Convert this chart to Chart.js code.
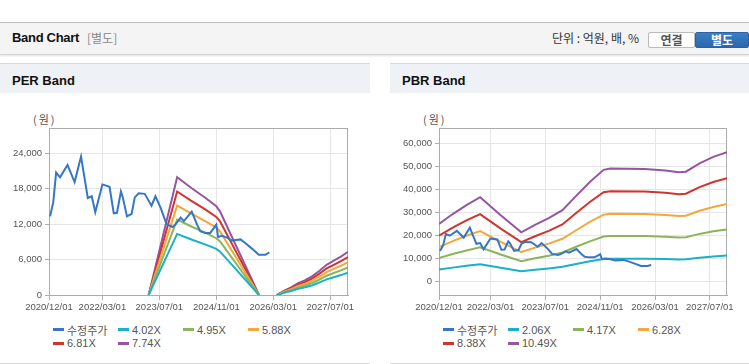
<!DOCTYPE html>
<html><head><meta charset="utf-8">
<script src="https://cdn.jsdelivr.net/npm/chart.js@4.4.1/dist/chart.umd.min.js"></script>
<style>
body{margin:0;width:749px;height:364px;position:relative;overflow:hidden;background:#fff;font-family:"Liberation Sans","Noto Sans CJK KR",sans-serif;}
.abs{position:absolute;white-space:nowrap;}
#hdr{position:absolute;left:0;top:22px;width:749px;height:31px;background:#f4f4f4;border-top:1px solid #bcbcbc;border-bottom:1px solid #d2d2d2;box-shadow:0 1px 2px rgba(0,0,0,0.12);}
.ttl{font-weight:bold;font-size:13px;color:#111;letter-spacing:-0.3px;}
.sub{font-size:12px;color:#888;font-family:"Noto Sans CJK KR",sans-serif;}
.unit{font-size:12px;color:#333;font-family:"Noto Sans CJK KR",sans-serif;}
.btn{position:absolute;top:9px;height:14px;line-height:14px;font-size:12px;font-weight:bold;text-align:center;font-family:"Noto Sans CJK KR",sans-serif;border-radius:2px;}
.panel{position:absolute;top:63px;height:299px;border-top:1px solid #d8d8d8;border-bottom:1px solid #d8d8d8;}
.ph{position:absolute;left:0;top:0;right:0;height:29px;background:#eef1f6;}
.ph span{position:absolute;left:12px;top:9px;font-weight:bold;font-size:13px;color:#111;}
.unitlbl{position:absolute;left:33px;top:47px;font-size:11px;color:#555;font-family:"Noto Sans CJK KR",sans-serif;letter-spacing:2px;}
canvas{position:absolute;left:0;top:29px;}
.legend{position:absolute;left:53px;top:259px;display:grid;grid-template-columns:repeat(4,65px);grid-auto-rows:13.5px;font-size:11px;color:#555;}
.legend div{display:flex;align-items:center;}
.legend i{display:inline-block;width:11px;height:3px;margin-right:3px;}
.legend span.k{font-family:"Noto Sans CJK KR",sans-serif;font-size:11px;}
</style></head>
<body>
<div id="hdr">
  <span class="abs ttl" style="left:12px;top:7px;">Band Chart</span>
  <span class="abs sub" style="left:87px;top:6px;">[별도]</span>
  <span class="abs unit" style="left:552px;top:6px;">단위 : 억원, 배, %</span>
  <div class="btn" style="left:648px;width:45px;background:#fff;border:1px solid #bbb;color:#555;">연결</div>
  <div class="btn" style="left:695px;width:52px;background:linear-gradient(#3b7dc6,#2b67ad);border:1px solid #2a62a6;color:#fff;">별도</div>
</div>

<div class="panel" style="left:0;width:370px;">
  <div class="ph"><span>PER Band</span></div>
  <div class="unitlbl">(원)</div>
  <canvas id="per" width="370" height="222"></canvas>
  <div class="legend" id="perLegend"></div>
</div>
<div class="panel" style="left:390px;width:359px;">
  <div class="ph"><span>PBR Band</span></div>
  <div class="unitlbl">(원)</div>
  <canvas id="pbr" width="359" height="222"></canvas>
  <div class="legend" id="pbrLegend"></div>
</div>

<script>
// ---------- data ----------
const xTickLabels = ['2020/12/01','2022/03/01','2023/07/01','2024/11/01','2026/03/01','2027/07/01'];
const perYTicks = [0,6000,12000,18000,24000];
const pbrYTicks = [0,10000,20000,30000,40000,50000,60000];

const priceLabel = '수정주가';
const priceDates = ['2020/12/10','2021/01/07','2021/02/01','2021/03/04','2021/05/07','2021/07/07','2021/09/01','2021/10/28','2021/12/01','2022/01/01',
  '2022/03/01','2022/05/01','2022/06/07','2022/07/04','2022/08/07','2022/08/22','2022/09/28','2022/11/07','2022/12/04','2023/01/07',
  '2023/02/28','2023/04/25','2023/05/28','2023/07/13','2023/09/01','2023/10/22','2023/11/16','2024/01/01','2024/01/28','2024/04/04',
  '2024/05/19','2024/06/16','2024/07/28','2024/09/10','2024/10/10','2024/11/01','2024/11/16','2024/12/19','2025/02/01','2025/03/13',
  '2025/04/16','2025/05/25','2025/07/07','2025/09/04','2025/10/28','2025/12/25','2026/01/28'];
const priceValues = [13300,15700,20700,19900,22000,19100,23400,16400,16700,14000,
  18700,18300,13800,13900,17500,16600,13300,13700,16500,17200,
  17100,15100,16700,14700,12000,11500,11900,13100,12500,14100,
  11900,10800,10500,10500,11300,11900,9800,10000,9700,9200,
  9300,9400,8750,7800,6800,6800,7200];

const perBandLabels = ['4.02X','4.95X','5.88X','6.81X','7.74X'];
const perBandDates = ['2023/04/01','2023/12/01','2024/04/01','2024/08/01','2024/11/01','2024/12/01','2025/11/01','2026/01/01',
  '2026/04/01','2026/06/01','2026/08/01','2026/10/01','2026/12/01','2027/02/01','2027/04/01','2027/06/01','2027/08/01','2027/10/01','2027/12/01'];
const per402 = [0,10330,9390,8510,7790,7370,0,null,0,360,670,1040,1300,1660,2130,2650,3010,3370,3790];
const per495 = [0,12740,11580,10500,9600,9090,0,null,0,450,830,1280,1600,2050,2620,3260,3710,4160,4670];
const per588 = [0,15120,13760,12460,11400,10790,0,null,0,530,990,1520,1900,2430,3120,3880,4410,4940,5550];
const per681 = [0,17500,15930,14430,13200,12500,0,null,0,620,1140,1760,2200,2820,3610,4490,5100,5720,6420];
const per774 = [0,19900,18100,16400,15000,14200,0,null,0,700,1300,2000,2500,3200,4100,5100,5800,6500,7300];

const pbrBandLabels = ['2.06X','4.17X','6.28X','8.38X','10.49X'];
const pbrBandDates = ['2020/12/01','2021/04/01','2021/08/01','2021/12/01','2022/06/01','2022/12/01','2023/04/01','2023/08/01','2023/12/01','2024/04/01',
  '2024/08/01','2024/12/01','2025/02/01','2025/12/01','2026/06/01','2026/10/01','2026/12/01','2027/04/01','2027/08/01','2027/12/01'];
const pbr206  = [5210,6050,6820,7490,5960,4500,5130,5700,6390,7610,8790,9830,9940,9900,9770,9630,9690,10380,10930,11340];
const pbr417  = [10240,11950,13500,14850,11750,8810,10080,11230,12620,15090,17470,19580,19820,19740,19460,19180,19280,20690,21800,22640];
const pbr628  = [14970,17540,19880,21910,17240,12810,14730,16460,18560,22270,25860,29040,29400,29280,28860,28440,28560,30710,32390,33650];
const pbr838  = [19970,23410,26530,29240,23010,17100,19650,21970,24770,29720,34520,38750,39230,39070,38510,37950,38110,40990,43230,44900];
const pbr1049 = [25000,29300,33200,36600,28800,21400,24600,27500,31000,37200,43200,48500,49100,48900,48200,47500,47700,51300,54100,56200];

// ---------- helpers ----------
const priceColor = '#3676c6';
const bandColors = ['#18b1c8','#8db45b','#f2a83c','#cf342f','#9555a0'];

function mIdx(s){const [y,m,d]=s.split('/').map(Number);return (y-2020)*12+(m-12)+(d-1)/30;}
function pts(dates, vals){return dates.map((d,i)=>({x:mIdx(d), y:vals[i]}));}

const framePlugin = {
  id:'frame',
  beforeDatasetsDraw(chart){
    const a = chart.chartArea, c = chart.ctx;
    c.save(); c.strokeStyle='#ababab'; c.lineWidth=1;
    c.strokeRect(Math.round(a.left)+0.5, Math.round(a.top)+0.5, Math.round(a.right-a.left)-1, Math.round(a.bottom-a.top));
    c.restore();
  }
};

function buildLegend(id, labels){
  const el = document.getElementById(id);
  const all = [[priceLabel, priceColor]].concat(labels.map((l,i)=>[l, bandColors[i]]));
  all.forEach(([l,c],i)=>{
    const d = document.createElement('div');
    d.innerHTML = '<i style="background:'+c+'"></i><span class="'+(i===0?'k':'')+'">'+l+'</span>';
    el.appendChild(d);
  });
}

function makeChart(id, bandDates, bands, labels, yMin, yMax, yTicks){
  const datasets = [{label:priceLabel, data:pts(priceDates, priceValues), borderColor:priceColor}];
  bands.forEach((b,i)=>datasets.push({label:labels[i], data:pts(bandDates,b), borderColor:bandColors[i], spanGaps:false}));
  const tickVals = xTickLabels.map(mIdx);
  new Chart(document.getElementById(id), {
    type:'line',
    data:{datasets},
    options:{
      responsive:false, animation:false,
      layout:{padding:{top:35,right:22,left:0,bottom:0}},
      plugins:{legend:{display:false}, tooltip:{enabled:false}},
      elements:{point:{radius:0}, line:{borderWidth:2, tension:0}},
      scales:{
        x:{type:'linear', min:mIdx('2020/12/01'), max:mIdx('2027/12/01'),
          afterBuildTicks:s=>{s.ticks = tickVals.map(v=>({value:v}));},
          ticks:{autoSkip:false, maxRotation:0, color:'#555', font:{family:'Liberation Sans', size:9.5}, padding:2,
            callback:(v)=>{const k = tickVals.findIndex(t=>Math.abs(t-v)<1e-6); return k>=0?xTickLabels[k]:'';}},
          grid:{color:'#e6e6e6', tickColor:'#b0b0b0', tickLength:5},
          border:{color:'#ababab'},
          afterFit:s=>{s.height=20;}
        },
        y:{min:yMin, max:yMax,
          afterBuildTicks:s=>{s.ticks = yTicks.map(v=>({value:v}));},
          ticks:{color:'#555', font:{family:'Liberation Sans', size:9.5}, padding:3,
            callback:v=>Number(v).toLocaleString('en-US')},
          grid:{color:'#e6e6e6', tickColor:'#b0b0b0', tickLength:4},
          border:{color:'#ababab'},
          afterFit:s=>{s.width=49;}
        }
      }
    },
    plugins:[framePlugin]
  });
}

makeChart('per', perBandDates, [per402,per495,per588,per681,per774], perBandLabels, 0, 28240, perYTicks);
makeChart('pbr', pbrBandDates, [pbr206,pbr417,pbr628,pbr838,pbr1049], pbrBandLabels, -5830, 66650, pbrYTicks);
buildLegend('perLegend', perBandLabels);
buildLegend('pbrLegend', pbrBandLabels);
</script>
</body></html>
